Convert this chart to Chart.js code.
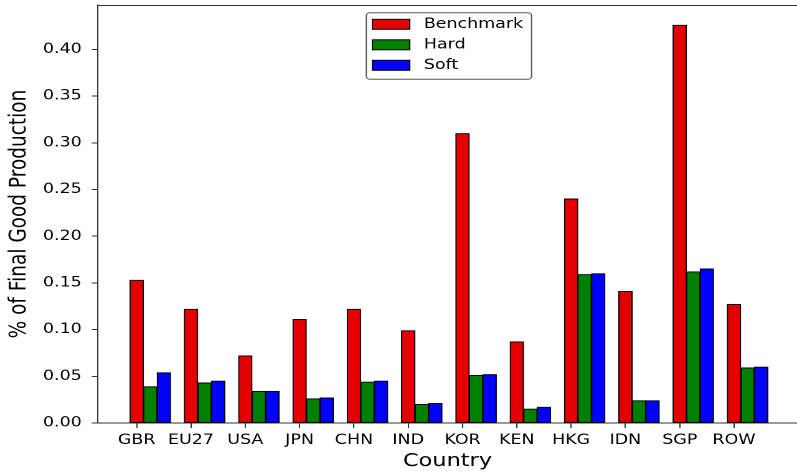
<!DOCTYPE html>
<html><head><meta charset="utf-8">
<script src="https://cdn.jsdelivr.net/npm/chart.js@4.4.1/dist/chart.umd.min.js"></script>
<style>html,body{margin:0;padding:0;background:#fff;overflow:hidden}canvas{display:block}</style>
</head><body>
<canvas id="c" width="640" height="472" style="width:797px;height:472px"></canvas>
<script>
const countries = ['GBR','EU27','USA','JPN','CHN','IND','KOR','KEN','HKG','IDN','SGP','ROW'];
const benchmark = [0.153, 0.122, 0.072, 0.111, 0.122, 0.099, 0.310, 0.087, 0.240, 0.141, 0.426, 0.127];
const hard      = [0.039, 0.043, 0.034, 0.026, 0.044, 0.020, 0.051, 0.015, 0.159, 0.024, 0.162, 0.059];
const soft      = [0.054, 0.045, 0.034, 0.027, 0.045, 0.021, 0.052, 0.017, 0.160, 0.024, 0.165, 0.060];
const seriesNames = ['Benchmark', 'Hard', 'Soft'];
const yTickValues = [0.00, 0.05, 0.10, 0.15, 0.20, 0.25, 0.30, 0.35, 0.40];

const FONT = "'DejaVu Sans', sans-serif";
const colors = ['#e50000', '#008000', '#0000ff'];
const BAR_W = 0.25;

function points(vals, k) { return vals.map((v, i) => ({ x: i + k * BAR_W, y: v })); }

const datasets = [benchmark, hard, soft].map((vals, k) => ({
  label: seriesNames[k],
  data: points(vals, k),
  backgroundColor: colors[k],
  borderColor: '#000',
  borderWidth: 1,
  borderSkipped: false,
  grouped: false,
  barPercentage: 1,
  categoryPercentage: 1
}));

const framePlugin = {
  id: 'frame',
  afterDatasetsDraw(chart) {
    const ctx = chart.ctx, ca = chart.chartArea;
    ctx.save();
    ctx.strokeStyle = '#333';
    ctx.lineWidth = 1;
    ctx.beginPath();
    ctx.moveTo(ca.left, ca.top + 0.5);
    ctx.lineTo(ca.right, ca.top + 0.5);
    ctx.stroke();
    ctx.restore();
  }
};

const legendPlugin = {
  id: 'mplLegend',
  afterDraw(chart) {
    const ctx = chart.ctx, ca = chart.chartArea, xs = chart.scales.x;
    ctx.save();
    ctx.font = '14px ' + FONT;
    const dsets = chart.data.datasets;
    let maxW = 0;
    dsets.forEach(d => { maxW = Math.max(maxW, ctx.measureText(d.label).width); });
    const padL = 4.9, handleW = 30, gap = 11.3, padR = 6.8;
    const w = padL + handleW + gap + maxW + padR;
    const h = 66.6;
    const cx = (ca.left + xs.getPixelForValue(12.2125)) / 2;
    const left = cx - w / 2, top = ca.top + 7.7;
    ctx.fillStyle = 'rgba(255,255,255,0.85)';
    ctx.strokeStyle = '#555';
    ctx.lineWidth = 1;
    ctx.beginPath();
    ctx.roundRect(left, top, w, h, 3);
    ctx.fill();
    ctx.stroke();
    dsets.forEach((d, r) => {
      const cy = top + 11.6 + r * 20.5;
      ctx.fillStyle = d.backgroundColor;
      ctx.fillRect(left + padL, cy - 5, handleW, 10);
      ctx.strokeStyle = '#000';
      ctx.lineWidth = 1;
      ctx.strokeRect(left + padL, cy - 5, handleW, 10);
      ctx.fillStyle = '#000';
      ctx.textBaseline = 'middle';
      ctx.textAlign = 'left';
      ctx.fillText(d.label, left + padL + handleW + gap, cy);
    });
    ctx.restore();
  }
};

function zeroPad(s) { s.paddingTop = 0; s.paddingBottom = 0; s.paddingLeft = 0; s.paddingRight = 0; }

new Chart(document.getElementById('c'), {
  type: 'bar',
  data: { datasets },
  options: {
    responsive: false,
    devicePixelRatio: 2,
    animation: false,
    layout: { padding: { top: 5, left: 0, right: 0, bottom: 0 } },
    plugins: { legend: { display: false }, tooltip: { enabled: false } },
    scales: {
      x: {
        type: 'linear',
        min: -0.7125,
        max: 12.16,
        offset: false,
        afterBuildTicks: s => { s.ticks = countries.map((c, i) => ({ value: i })); },
        afterFit: s => { s.height = 49; zeroPad(s); },
        grid: { display: true, offset: false, drawOnChartArea: false, drawTicks: true, tickLength: 5, color: '#333' },
        border: { display: true, color: '#333', width: 1 },
        ticks: {
          autoSkip: false, maxRotation: 0, minRotation: 0, padding: 4,
          color: '#000', font: { family: FONT, size: 14 },
          callback: (v) => countries[Math.round(v)]
        },
        title: { display: true, text: 'Country', color: '#000', font: { family: FONT, size: 18 }, padding: { top: 0, bottom: 0 } }
      },
      y: {
        type: 'linear',
        min: 0,
        max: 0.4475,
        afterBuildTicks: s => { s.ticks = yTickValues.map(v => ({ value: v })); },
        afterFit: s => { s.width = 78.7; zeroPad(s); },
        grid: { display: true, offset: false, drawOnChartArea: false, drawTicks: true, tickLength: 5, color: '#333' },
        border: { display: true, color: '#333', width: 1 },
        ticks: {
          padding: 8, color: '#000', font: { family: FONT, size: 14 },
          callback: (v) => Number(v).toFixed(2)
        },
        title: { display: true, text: '% of Final Good Production', color: '#000', font: { family: FONT, size: 18.5 }, padding: { top: 4.8, bottom: 0 } }
      }
    }
  },
  plugins: [framePlugin, legendPlugin]
});
</script>
</body></html>
